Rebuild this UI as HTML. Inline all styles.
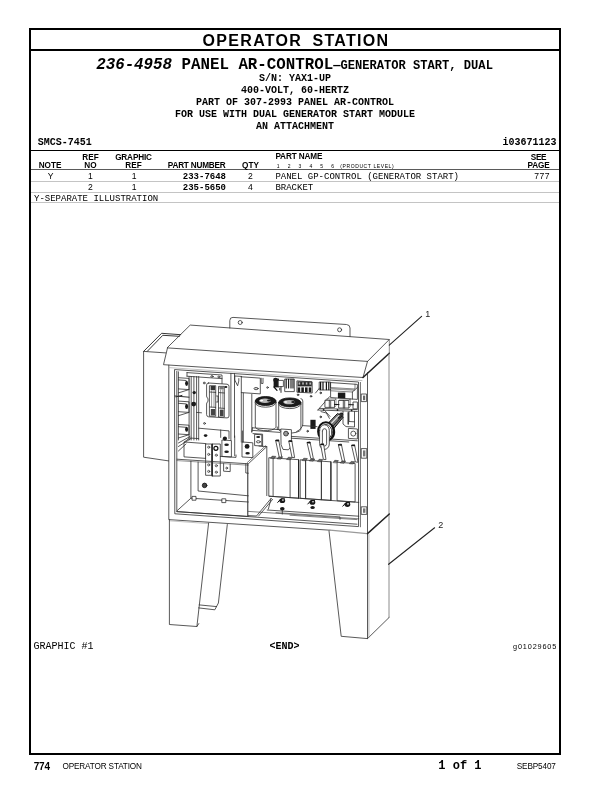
<!DOCTYPE html>
<html><head><meta charset="utf-8"><title>OPERATOR STATION</title>
<style>
html,body{margin:0;padding:0;background:#fff;}
body{width:612px;height:792px;position:relative;overflow:hidden;font-family:"Liberation Sans",sans-serif;color:#000;}
.abs{position:absolute;white-space:pre;line-height:1;}
.sans{font-family:"Liberation Sans",sans-serif;}
.mono{font-family:"Liberation Mono",monospace;}
.b{font-weight:bold;}
.ln{position:absolute;background:#000;}
.gl{position:absolute;background:#c4c4c4;height:1px;left:31px;width:528px;}
.c{text-align:center;}
.r{text-align:right;}
.th{font-size:8.2px;font-weight:bold;}
.td{font-size:8.6px;}
.m9{font-family:"Liberation Mono",monospace;font-size:9px;}
</style></head><body><div id="wrap" style="position:absolute;left:0;top:0;width:612px;height:792px;will-change:transform">
<!-- frame -->
<div class="ln" style="left:29px;top:28px;width:532px;height:2px"></div>
<div class="ln" style="left:29px;top:49px;width:532px;height:2px"></div>
<div class="ln" style="left:29px;top:753.4px;width:532px;height:2px"></div>
<div class="ln" style="left:29px;top:28px;width:2px;height:727.4px"></div>
<div class="ln" style="left:559px;top:28px;width:2px;height:727.4px"></div>
<div class="ln" style="left:31px;top:150px;width:528px;height:1px"></div>
<div class="ln" style="left:31px;top:169px;width:528px;height:1px;background:#5a5a5a"></div>
<div class="gl" style="top:181px"></div>
<div class="gl" style="top:192px"></div>
<div class="gl" style="top:202px"></div>

<div class="abs sans b c" id="title" style="left:32px;width:528px;top:33px;font-size:16px;word-spacing:4.5px;letter-spacing:1.3px">OPERATOR STATION</div>

<div class="abs mono b" id="h1" style="left:96.2px;top:58px;font-size:15.8px"><i id="h1a">236-4958</i> <span id="h1c">PANEL AR-CONTROL</span><span id="h1b" style="font-size:12.1px">&#8212;<span id="h1d">GENERATOR</span> START, DUAL</span></div>
<div class="abs mono b c" id="h2" style="left:31px;width:528px;top:74px;font-size:10px">S/N: YAX1-UP</div>
<div class="abs mono b c" id="h3" style="left:31px;width:528px;top:86px;font-size:10px">400-VOLT, 60-HERTZ</div>
<div class="abs mono b c" id="h4" style="left:31px;width:528px;top:98px;font-size:10px">PART OF 307-2993 PANEL AR-CONTROL</div>
<div class="abs mono b c" id="h5" style="left:31px;width:528px;top:110px;font-size:10px">FOR USE WITH DUAL GENERATOR START MODULE</div>
<div class="abs mono b c" id="h6" style="left:31px;width:528px;top:122px;font-size:10px">AN ATTACHMENT</div>
<div class="abs mono b" id="smcs" style="left:37.7px;top:138px;font-size:10px">SMCS-7451</div>
<div class="abs mono b" id="ino" style="left:502.6px;top:138px;font-size:10px">i03671123</div>

<!-- table header -->
<div class="abs th c" id="t_note" style="left:30px;width:40px;top:162px;letter-spacing:0px">NOTE</div>
<div class="abs th c" id="t_ref" style="left:70px;width:41px;top:154px">REF</div>
<div class="abs th c" id="t_no" style="left:70px;width:41px;top:162px">NO</div>
<div class="abs th c" id="t_gr" style="left:108px;width:51px;top:154px;letter-spacing:-0.15px">GRAPHIC</div>
<div class="abs th c" id="t_gr2" style="left:108px;width:51px;top:162px">REF</div>
<div class="abs th" id="t_pn" style="left:167.8px;top:162px;letter-spacing:-0.2px">PART NUMBER</div>
<div class="abs th c" id="t_qty" style="left:230px;width:41px;top:162px">QTY</div>
<div class="abs th" id="t_pname" style="left:275.4px;top:153.4px;letter-spacing:-0.12px">PART NAME</div>
<div class="abs sans" id="t_lv" style="left:276.8px;top:163.7px;font-size:5px;word-spacing:6.7px">1 2 3 4 5 6</div>
<div class="abs sans" id="t_pl" style="left:340.3px;top:163.7px;font-size:5px;letter-spacing:0.6px">(PRODUCT LEVEL)</div>
<div class="abs th c" id="t_see" style="left:518px;width:41px;top:154px;letter-spacing:-0.3px">SEE</div>
<div class="abs th c" id="t_page" style="left:518px;width:41px;top:162px;letter-spacing:-0.1px">PAGE</div>

<!-- rows -->
<div class="abs td c" id="r1a" style="left:30px;width:41px;top:171.7px">Y</div>
<div class="abs td c" id="r1b" style="left:70px;width:41px;top:171.7px">1</div>
<div class="abs td c" id="r1c" style="left:113.6px;width:41px;top:171.7px">1</div>
<div class="abs m9 b r" id="r1d" style="left:150px;width:76px;top:172.6px">233-7648</div>
<div class="abs td c" id="r1e" style="left:230px;width:41px;top:171.7px">2</div>
<div class="abs m9" id="r1f" style="left:275.4px;top:172.6px">PANEL GP-CONTROL (GENERATOR START)</div>
<div class="abs td r" id="r1g" style="left:500px;width:49.9px;top:171.7px;letter-spacing:0.45px">777</div>

<div class="abs td c" id="r2b" style="left:70px;width:41px;top:182.9px">2</div>
<div class="abs td c" id="r2c" style="left:113.6px;width:41px;top:182.9px">1</div>
<div class="abs m9 b r" id="r2d" style="left:150px;width:76px;top:183.5px">235-5650</div>
<div class="abs td c" id="r2e" style="left:230px;width:41px;top:182.9px">4</div>
<div class="abs m9" id="r2f" style="left:275.4px;top:183.5px">BRACKET</div>
<div class="abs m9" id="r3" style="left:34px;top:194.6px">Y-SEPARATE ILLUSTRATION</div>


<!-- illustration -->
<svg id="art" width="612" height="792" viewBox="0 0 612 792" style="position:absolute;left:0;top:0" fill="none" stroke="#2e2e2e" stroke-width="0.8" stroke-linecap="round" stroke-linejoin="round">
<g id="outline">
<!-- mounting tab -->
<path d="M229.8,328 L229.8,320.6 Q229.8,317.2 233,317.4 L346.5,324.5 Q350,324.8 350,328 L350,336.6"/>
<circle cx="240.2" cy="322.5" r="2"/><circle cx="339.6" cy="329.8" r="2"/>
<!-- roof -->
<path d="M190.6,325.1 L389.3,339.5 L367.5,361.4 L167.5,347.9 Z"/>
<path d="M167.5,347.9 L163.5,364.7 L363,377.5 L367.5,361.4"/>
<path d="M389.3,339.5 L389.3,353.3" stroke="#666" stroke-width="0.75"/>
<path d="M389.3,353.3 L363,377.5" stroke="#222" stroke-width="1.5"/>
<!-- side box -->
<path d="M165.8,352.9 L143.6,351.4 L143.6,457.2 L168.6,460.9"/>
<path d="M143.6,351.4 L161.6,333.3 L180.7,334.7" stroke="#222" stroke-width="0.9"/>
<path d="M147.4,351.2 L162.8,335.3 L179.4,336.3" stroke="#222" stroke-width="0.9"/>
<!-- cabinet -->
<path d="M168.8,365.2 L168.8,519.6 L240,524.3 L330,530.2"/>
<path d="M330,530.2 L367.3,533.7" stroke="#9a9a9a" stroke-width="1.3"/>
<path d="M168.8,367.6 L362,380.6" stroke="#999" stroke-width="0.6"/>
<path d="M367.5,372.6 L367.5,638.6"/>
<path d="M389,353.3 L389,617.6" stroke="#666" stroke-width="0.75"/>
<path d="M389,617.6 L367.5,638.6 L341.2,636.3 L329,531"/>
<path d="M389.3,514 L367.5,533.6" stroke="#222" stroke-width="1.5"/>
<!-- opening -->
<path d="M174.9,369.6 L358.5,382 L358.5,526.6 L175.2,513.8 Z"/>
<path d="M176.8,371.4 L176.8,511.6 L357,524.2"/>
<path d="M360.4,382.4 L360.4,526.8" stroke-width="0.7"/>
<path d="M368.9,534.5 L368.9,637.2" stroke="#888" stroke-width="0.6"/>
<!-- left leg -->
<path d="M169.4,520.8 L208.4,523.6" stroke="#aaa" stroke-width="0.7"/>
<path d="M169.4,519.6 L169.4,624.5 L196.9,626.5 L208.6,523.1"/>
<path d="M196.9,626.5 L198.8,623.6"/>
<path d="M227.3,524.5 L218.4,603 L214.8,609.8 L198.6,607.9"/>
<path d="M199.2,604.9 L216.6,606.6"/>
<!-- hinges -->
<rect x="361.6" y="394" width="5" height="7.6"/><rect x="363" y="395.6" width="2.2" height="4.6" fill="#666" stroke="none"/>
<rect x="361.6" y="448.6" width="5.2" height="9.6"/><rect x="363" y="450.4" width="2.4" height="6" fill="#777" stroke="none"/>
<rect x="361.6" y="506.8" width="5.2" height="7.6"/><rect x="363" y="508.4" width="2.4" height="4.4" fill="#777" stroke="none"/>
</g>
<g id="interior">
<path d="M178.4,371.8 L178.4,440"/>
<path d="M187,372.6 L222,375 L222,383.6 M187,376.2 L222,378.6 M187,372.6 L187,376.2"/>
<ellipse cx="212" cy="376.4" rx="1.2" ry="0.8" />
<ellipse cx="218.9" cy="376.9" rx="1.2" ry="0.8" />
<path d="M178.4,377.7 L189,378.4 L189,389.59999999999997 L178.4,388.9"/>
<path d="M178.4,379.9 L186,380.5"/>
<ellipse cx="186.6" cy="383.29999999999995" rx="1.5" ry="2.6" fill="#1a1a1a" stroke="none"/>
<path d="M178.4,392.9 L189,389.59999999999997"/>
<path d="M178.4,401.1 L189,401.8 L189,412.4 L178.4,411.7"/>
<path d="M178.4,403.3 L186,403.90000000000003"/>
<ellipse cx="186.6" cy="406.4" rx="1.5" ry="2.6" fill="#1a1a1a" stroke="none"/>
<path d="M178.4,415.7 L189,412.4"/>
<path d="M178.4,424.5 L189,425.2 L189,434.7 L178.4,434"/>
<path d="M178.4,426.7 L186,427.3"/>
<ellipse cx="186.6" cy="429.25" rx="1.5" ry="2.6" fill="#1a1a1a" stroke="none"/>
<path d="M178.4,438 L189,434.7"/>
<path d="M174.9,396 L189,397.2 M176,396.9 L182,395.4" stroke-width="1"/>
<path d="M189.1,376.5 L189.1,440"/>
<path d="M191.2,376.5 L191.2,440"/>
<path d="M193.9,376.5 L193.9,440"/>
<path d="M196.6,376.5 L196.6,440"/>
<path d="M198.7,376.5 L198.7,440"/>
<circle cx="194.2" cy="392.6" r="1.7" fill="#1a1a1a" stroke="none"/>
<circle cx="193.7" cy="404.1" r="2.4" fill="#1a1a1a" stroke="none"/>
<path d="M196.6,412.4 L201.5,412.8"/>
<circle cx="204.2" cy="383" r="0.9" />
<circle cx="204.5" cy="423.4" r="0.9" />
<path d="M208.5,383 L227,384.2 Q229,384.4 229,386.4 L229,416 Q229,418 227,417.9 L208.6,416.8 Q206.6,416.6 206.6,414.6 L206.6,404 Q206.6,402 208,401.6 L208,398.4 Q206.6,398 206.6,396 L206.6,385 Q206.6,382.9 208.5,383 Z"/>
<rect x="209.8" y="385.7" width="5.9" height="30.5" />
<rect x="218.9" y="386.4" width="5.4" height="30.6" />
<rect x="210.6" y="386.0" width="4.4" height="4.2" fill="#333" stroke="none"/>
<rect x="210.8" y="409.0" width="4.2" height="6.4" fill="#444" stroke="none"/>
<rect x="219.8" y="409.6" width="3.8" height="6.4" fill="#444" stroke="none"/>
<rect x="219.4" y="386.8" width="4.4" height="2.6" fill="#777" stroke="none"/>
<path d="M209.8,392 L215.7,392.4 M209.8,407 L215.7,407.4 M218.9,392.6 L224.3,393 M218.9,408 L224.3,408.4"/>
<path d="M211.6,391 L211.6,407 M214,391 L214,407 M220.6,390 L220.6,408 M222.8,390 L222.8,408" stroke-width="0.5"/>
<ellipse cx="225.9" cy="386.9" rx="1.5" ry="1" fill="#1a1a1a" stroke="none"/>
<path d="M216.6,396 L218,396 L218,402 L216.6,402"/>
<path d="M230.9,373.4 L230.9,440 M234.5,373.6 L234.5,437.4"/>
<path d="M198.7,428.2 L229,430.9 L229,438.5"/>
<ellipse cx="205.6" cy="435.6" rx="1.8" ry="1.3" fill="#1a1a1a" stroke="none"/>
<path d="M178.4,443 L190,436.5 M178.4,446.5 L191,438.5 M178.4,451 L186,444" stroke-width="0.8"/>
<path d="M184.4,442 L206,443.6 L206,458.4 L184.4,456.9 Z"/>
<path d="M184.4,442 L189.6,438 L198.7,438.6"/>
<rect x="206.0" y="444.0" width="5.8" height="31.3" fill="#fff"/>
<rect x="212.5" y="444.0" width="7.8" height="32.0" fill="#fff"/>
<path d="M212.2,444 L212.2,476" stroke="#111" stroke-width="1.1"/>
<circle cx="208.7" cy="447.2" r="1.1" fill="#ddd" stroke="#222" stroke-width="0.6"/>
<circle cx="216.3" cy="448.0" r="1.1" fill="#ddd" stroke="#222" stroke-width="0.6"/>
<circle cx="208.7" cy="454.4" r="1.1" fill="#ddd" stroke="#222" stroke-width="0.6"/>
<circle cx="216.3" cy="455.2" r="1.1" fill="#ddd" stroke="#222" stroke-width="0.6"/>
<circle cx="208.7" cy="464.9" r="1.1" fill="#ddd" stroke="#222" stroke-width="0.6"/>
<circle cx="216.3" cy="465.7" r="1.1" fill="#ddd" stroke="#222" stroke-width="0.6"/>
<circle cx="208.7" cy="471.4" r="1.1" fill="#ddd" stroke="#222" stroke-width="0.6"/>
<circle cx="216.3" cy="472.2" r="1.1" fill="#ddd" stroke="#222" stroke-width="0.6"/>
<circle cx="215.9" cy="448.3" r="2" fill="#fff" stroke="#111" stroke-width="1.2"/>
<path d="M222.3,440 L231.4,440.6 L231.4,457 L222.3,456.4 Z"/>
<circle cx="224.9" cy="438.6" r="2.1" fill="#1a1a1a" stroke="none"/>
<ellipse cx="226.6" cy="444.8" rx="2.3" ry="1.2" fill="#1a1a1a" stroke="none"/>
<ellipse cx="226.6" cy="451.8" rx="2.3" ry="1.2" fill="#1a1a1a" stroke="none"/>
<path d="M220.3,456.4 L236,457.4 L236,455"/>
<path d="M242.4,442 L252.8,442.8 L252.8,457.6 L242.4,457 Z"/>
<circle cx="247.1" cy="446.4" r="2.4" fill="#1a1a1a" stroke="none"/>
<ellipse cx="247.6" cy="453.2" rx="2.2" ry="1.2" fill="#1a1a1a" stroke="none"/>
<path d="M242.4,442 L242.4,431"/>
<path d="M220.7,437.4 L220.7,430 M234.7,436 L234.7,455.7"/>
<path d="M177,459.2 L248.3,463.8 L266.8,446.6 L266.8,495.6"/>
<path d="M177,460.6 L248.3,465.2" stroke-width="0.5"/>
<path d="M247.8,463.8 L247.8,515.6" stroke="#222" stroke-width="1"/>
<path d="M247.2,462.6 L265.8,445.6" stroke-width="0.6"/>
<path d="M245.8,463.7 L245.8,473 L248.3,473.2"/>
<path d="M266.8,446.6 L259,446"/>
<path d="M198.1,462 L198.1,491 L248.3,495.8"/>
<path d="M223.6,463.6 L223.6,471.2 L230.2,471.6 L230.2,464"/>
<circle cx="226.7" cy="468.1" r="0.9" />
<circle cx="204.6" cy="485.4" r="2.3" fill="#444" stroke="#111" stroke-width="0.8"/>
<path d="M190.9,461.2 L190.9,498.2 L248.3,502 M190.9,498.2 L177.2,510.6"/>
<rect x="192.4" y="496.4" width="3.6" height="3.8" fill="#fff"/>
<rect x="222.2" y="498.8" width="3.6" height="3.8" fill="#fff"/>
<path d="M248.3,515.6 L256.5,516 L271.1,498.4 M258.6,516 L272.6,499.4"/>
<path d="M241.3,376.4 L241.3,442 M243.3,393 L243.3,442 M251.8,394.4 L251.8,432"/>
<path d="M241.3,376.8 L260.3,378.1 L260.3,393.9 L241.3,392.6"/>
<ellipse cx="256.1" cy="388.6" rx="2.1" ry="1.1" fill="#ddd"/>
<path d="M234.8,376 L241.3,376.4 M234.8,376 L234.8,380 L237.6,385.8 L238.8,381 L238.8,378.6"/>
<path d="M261.2,378.2 L261.2,383.4 L263,383.5 L263,378.3"/>
<circle cx="267.5" cy="387.5" r="0.8" />
<rect x="273.6" y="378.6" width="5.4" height="8.8" fill="#1a1a1a" stroke="none"/>
<rect x="278.4" y="380.4" width="5.0" height="6.2" fill="#fff"/>
<path d="M281,386.6 L281,392.4 M279.8,388 L279.8,390" stroke-width="1"/>
<ellipse cx="275.6" cy="380" rx="2.4" ry="2.2" fill="#1a1a1a" stroke="none"/>
<path d="M274,387 L277,390.4" stroke="#111" stroke-width="1.2"/>
<rect x="285.1" y="379.0" width="9.2" height="12.6" />
<path d="M286.2,379.4 L286.2,388" stroke="#111" stroke-width="1.1"/>
<path d="M288.6,379.4 L288.6,388" stroke="#111" stroke-width="1.1"/>
<path d="M291,379.4 L291,388" stroke="#111" stroke-width="1.1"/>
<path d="M293,379.4 L293,388" stroke="#111" stroke-width="1.1"/>
<rect x="297.6" y="381.4" width="14.2" height="5.0" fill="#2a2a2a" stroke="none"/>
<rect x="298.6" y="382.4" width="1.6" height="2.2" fill="#bbb" stroke="none"/>
<rect x="302.2" y="382.4" width="1.6" height="2.2" fill="#bbb" stroke="none"/>
<rect x="305.8" y="382.4" width="1.6" height="2.2" fill="#bbb" stroke="none"/>
<rect x="309.4" y="382.4" width="1.6" height="2.2" fill="#bbb" stroke="none"/>
<rect x="297.6" y="387.4" width="2.6" height="5.0" fill="#1a1a1a" stroke="none"/>
<rect x="301.3" y="387.4" width="2.6" height="5.0" fill="#1a1a1a" stroke="none"/>
<rect x="305.0" y="387.4" width="2.6" height="5.0" fill="#1a1a1a" stroke="none"/>
<rect x="308.7" y="387.4" width="2.6" height="5.0" fill="#1a1a1a" stroke="none"/>
<path d="M297.3,380.9 L312.2,381.9 L312.2,393 L297.3,392.2 Z"/>
<rect x="319.6" y="382.0" width="10.9" height="8.0" />
<path d="M320.6,382.4 L320.6,389.6" stroke="#111" stroke-width="1.2"/>
<path d="M323,382.4 L323,389.6" stroke="#111" stroke-width="1.2"/>
<path d="M326.4,382.4 L326.4,389.6" stroke="#111" stroke-width="1.2"/>
<path d="M328.8,382.4 L328.8,389.6" stroke="#111" stroke-width="1.2"/>
<path d="M319.6,388 L315.5,393"/>
<path d="M331,382.6 L357.4,384.4 L357.4,399.4 L331,397.6 Z"/>
<path d="M331,387.6 L355,389 L355,384.2 M331,390.8 L352,392" stroke-width="0.6"/>
<path d="M331.4,388.6 L354.6,390" stroke="#999" stroke-width="1.6"/>
<rect x="337.9" y="392.6" width="7.4" height="5.6" fill="#1a1a1a" stroke="none"/>
<path d="M352.4,392 L357.4,387.5 M352.4,392 L352.4,399"/>
<path d="M317.9,410 L329.6,396.6 M317.9,410 L357.4,411.4 M319.4,408.4 L357.4,409.6"/>
<rect x="325.3" y="400.3" width="9.2" height="7.1" fill="#fff"/>
<path d="M329.29999999999995,400.3 L329.29999999999995,407.4 M330.7,401.1 L330.7,407.4"/>
<path d="M325.3,400.3 L326.8,398.90000000000003 L336.0,398.90000000000003 L334.5,400.3 M336.0,398.90000000000003 L336.0,406.0 L334.5,407.4" stroke-width="0.5"/>
<rect x="339.0" y="400.5" width="9.8" height="7.5" fill="#fff"/>
<path d="M343.29999999999995,400.5 L343.29999999999995,408 M344.7,401.3 L344.7,408"/>
<path d="M339,400.5 L340.5,399.1 L350.3,399.1 L348.8,400.5 M350.3,399.1 L350.3,406.6 L348.8,408" stroke-width="0.5"/>
<rect x="353.4" y="402.0" width="4.0" height="6.9" fill="#fff"/>
<path d="M334.5,404.4 L339,404.6 M348.8,404.6 L353.4,404.8" stroke-width="1" stroke="#111"/>
<circle cx="337.5" cy="410" r="0.9" fill="#1a1a1a" stroke="none"/>
<circle cx="323.6" cy="409.8" r="0.9" fill="#1a1a1a" stroke="none"/>
<circle cx="351.6" cy="410.4" r="0.9" fill="#1a1a1a" stroke="none"/>
<path d="M255.3,401 L255.3,425.6 A10.349999999999994,4.2 0 0 0 276,427.20000000000005 L276,402" fill="#fff"/>
<ellipse cx="265.6" cy="402.6" rx="10.349999999999994" ry="4.6" fill="#fff"/>
<ellipse cx="265.6" cy="401" rx="10.349999999999994" ry="4.5" fill="#1a1a1a" stroke="#111"/>
<ellipse cx="265.0" cy="400.7" rx="6" ry="2.2" fill="#b8b8b8" stroke="none"/>
<ellipse cx="269.0" cy="400.6" rx="2" ry="1" fill="#1a1a1a" stroke="none"/>
<ellipse cx="261.6" cy="400.6" rx="1.6" ry="0.8" fill="#fff" stroke="none"/>
<path d="M278.7,402.4 L278.7,428 A11.099999999999994,4.2 0 0 0 300.9,429.6 L300.9,403.4" fill="#fff"/>
<ellipse cx="289.8" cy="404.0" rx="11.099999999999994" ry="4.6" fill="#fff"/>
<ellipse cx="289.8" cy="402.4" rx="11.099999999999994" ry="4.5" fill="#1a1a1a" stroke="#111"/>
<ellipse cx="289.2" cy="402.09999999999997" rx="6" ry="2.2" fill="#b8b8b8" stroke="none"/>
<ellipse cx="293.2" cy="402.0" rx="2" ry="1" fill="#1a1a1a" stroke="none"/>
<ellipse cx="285.8" cy="402.0" rx="1.6" ry="0.8" fill="#fff" stroke="none"/>
<path d="M300.9,398.6 Q302.8,398.8 302.8,401 L302.8,424 Q302.6,428.6 296.6,431.6"/>
<path d="M252.5,427.8 L281.2,429.8 M252.5,430.4 L280,432.4 M252.5,427.8 L251.8,432 M277.3,427 L277.3,429.6"/>
<path d="M281.2,429 L291.4,429.7 L291.4,446 L288.4,449.8 L283,449.4 L281.2,445 Z" fill="#fff"/>
<circle cx="286" cy="433.6" r="2.4" fill="#999" stroke="#222"/>
<path d="M255,434.3 L261.8,434.8 L261.8,446 L255,445.6 Z"/>
<ellipse cx="258.2" cy="437" rx="2" ry="1.1" fill="#1a1a1a" stroke="none"/>
<ellipse cx="258.4" cy="441.8" rx="2" ry="1.1" fill="#fff"/>
<path d="M253,433.6 L262.6,434.2 L262.6,446.4"/>
<circle cx="311" cy="396.3" r="0.8" fill="#888"/>
<circle cx="320.7" cy="392.9" r="0.8" fill="#888"/>
<circle cx="320.7" cy="416.9" r="0.8" fill="#888"/>
<circle cx="307.6" cy="431.2" r="0.8" fill="#888"/>
<circle cx="298" cy="394.8" r="0.8" fill="#888"/>
<rect x="310.4" y="419.8" width="5.2" height="9.1" fill="#1a1a1a" stroke="none"/>
<path d="M343,411.4 L343,424 L346,426.6 L354.5,427 L354.5,411.6 M349,411.6 L349,421.5 L354.5,421.8"/>
<path d="M348.8,428.4 L357.4,429 L357.4,439 L348.8,438.4 Z"/>
<circle cx="353.3" cy="433.6" r="2.5" />
<path d="M291.4,436.4 L357.4,440.8 M291.4,438.2 L348.8,442"/>
<path d="M302.8,425.6 L317,426.6"/>
<path d="M326.5,425 L337.6,413.4 L343.2,417.2 L332.8,429.8 Z" fill="#777" stroke="#111" stroke-width="1"/>
<ellipse cx="340.2" cy="415.6" rx="3.2" ry="1.8" fill="#333" stroke="#111" transform="rotate(-48 340.2 415.6)"/>
<path d="M329.4,425.4 L339,415.4" stroke="#eee" stroke-width="1.1"/>
<path d="M331.6,427.6 L341,417.4" stroke="#222" stroke-width="1"/>
<path d="M321,411.6 L326.4,413 L329.4,418.4 M324.8,410.6 L330,416.4"/>
<ellipse cx="325.9" cy="431.6" rx="7.8" ry="9.4" fill="#fff" stroke="#111" stroke-width="2"/>
<ellipse cx="326.1" cy="432" rx="5.9" ry="7.4" stroke="#111" stroke-width="0.9"/>
<path d="M331.8,426 A5.9,7.4 0 0 1 331.6,438.4" stroke="#111" stroke-width="1.6"/>
<path d="M319.6,430.4 L319.6,443.6 A4.85,5.6 0 0 0 329.3,444 L329.3,430.4 A4.85,5.6 0 0 0 319.6,430.4 Z" fill="#fff"/>
<path d="M322.4,431 L322.4,443.6 A2.1,2.3 0 0 0 326.6,443.8 L326.6,431 A2.1,2.3 0 0 0 322.4,431"/>
<path d="M348.2,412.7 L348.2,424" stroke="#222" stroke-width="1.3"/>
<path d="M269.2,457.7 L298.6,459.6698 L298.6,498.1698 L269.2,496.2 Z" fill="#fff"/>
<path d="M273.1,457.9613 L273.1,496.4613"/>
<path d="M290.1,459.1003 L290.1,497.6003"/>
<path d="M300.6,459.80379999999997 L330.9,461.83389999999997 L330.9,500.33389999999997 L300.6,498.30379999999997 Z" fill="#fff"/>
<path d="M305.6,460.1388 L305.6,498.6388"/>
<path d="M321.4,461.1974 L321.4,499.6974"/>
<path d="M337.5,462.2761 L355.1,463.45529999999997 L355.1,501.95529999999997 L337.5,500.7761 Z" fill="#fff"/>
<path d="M298.6,459.8 L298.6,498.2" stroke="#222" stroke-width="1.1"/>
<path d="M330.9,461.8 L330.9,500.4" stroke="#222" stroke-width="1.1"/>
<path d="M321.4,461.2 L321.4,499.6 M305.6,460.2 L305.6,498.6"/>
<path d="M270.6,458.0938 L272.20000000000005,456.0938 L275.8,456.3938 L274.40000000000003,458.3938 Z" fill="#666" stroke="#222" stroke-width="0.5"/>
<path d="M277.4,458.5494 L279.0,456.5494 L282.59999999999997,456.8494 L281.2,458.8494 Z" fill="#666" stroke="#222" stroke-width="0.5"/>
<path d="M286.8,459.1792 L288.40000000000003,457.1792 L292.0,457.4792 L290.6,459.4792 Z" fill="#666" stroke="#222" stroke-width="0.5"/>
<path d="M302.2,460.211 L303.8,458.211 L307.4,458.511 L306.0,460.511 Z" fill="#666" stroke="#222" stroke-width="0.5"/>
<path d="M309.6,460.7068 L311.20000000000005,458.7068 L314.8,459.0068 L313.40000000000003,461.0068 Z" fill="#666" stroke="#222" stroke-width="0.5"/>
<path d="M317.6,461.2428 L319.20000000000005,459.2428 L322.8,459.5428 L321.40000000000003,461.5428 Z" fill="#666" stroke="#222" stroke-width="0.5"/>
<path d="M333.2,462.288 L334.8,460.288 L338.4,460.588 L337.0,462.588 Z" fill="#666" stroke="#222" stroke-width="0.5"/>
<path d="M340.4,462.7704 L342.0,460.7704 L345.59999999999997,461.0704 L344.2,463.0704 Z" fill="#666" stroke="#222" stroke-width="0.5"/>
<path d="M349.6,463.3868 L351.20000000000005,461.3868 L354.8,461.6868 L353.40000000000003,463.6868 Z" fill="#666" stroke="#222" stroke-width="0.5"/>
<path d="M275.7,440.7 L279.2,457 L281.8,457.2 L278.7,440.09999999999997 Z" fill="#fff"/>
<path d="M276.09999999999997,440.5 L278.5,440.7" stroke="#111" stroke-width="1.4"/>
<path d="M288.8,441.3 L292,457.4 L294.6,457.59999999999997 L291.8,440.7 Z" fill="#fff"/>
<path d="M289.2,441.1 L291.6,441.3" stroke="#111" stroke-width="1.4"/>
<path d="M307.1,442.8 L310.8,458.6 L313.40000000000003,458.8 L310.1,442.2 Z" fill="#fff"/>
<path d="M307.5,442.6 L309.90000000000003,442.8" stroke="#111" stroke-width="1.4"/>
<path d="M320.6,444.6 L323.4,459.4 L326.0,459.59999999999997 L323.6,444.0 Z" fill="#fff"/>
<path d="M321.0,444.40000000000003 L323.40000000000003,444.6" stroke="#111" stroke-width="1.4"/>
<path d="M338.4,445 L342.2,461 L344.8,461.2 L341.4,444.4 Z" fill="#fff"/>
<path d="M338.79999999999995,444.8 L341.2,445" stroke="#111" stroke-width="1.4"/>
<path d="M351.6,445.6 L355.4,462 L358.0,462.2 L354.6,445.0 Z" fill="#fff"/>
<path d="M352.0,445.40000000000003 L354.40000000000003,445.6" stroke="#111" stroke-width="1.4"/>
<path d="M269.2,496.2 L358.8,502.4 M267.2,510 L358.8,516.2 M271.1,498.4 L268.4,509"/>
<path d="M248.3,511.4 L358.8,518.8 M276,512.6 L340,516.8 L340,519.6 M290,515.2 L357,519.6" stroke-width="0.6"/>
<path d="M176.8,511.6 L248.3,516.4"/>
<ellipse cx="282.3" cy="500.8" rx="2.9" ry="2.3" fill="#1a1a1a" stroke="none"/>
<path d="M277.7,502.40000000000003 L280.90000000000003,498.8 L284.5,498.8" stroke="#111" stroke-width="1"/>
<ellipse cx="282.90000000000003" cy="500.1" rx="1.1" ry="0.8" fill="#ccc" stroke="none"/>
<ellipse cx="312.4" cy="502.4" rx="2.9" ry="2.3" fill="#1a1a1a" stroke="none"/>
<path d="M307.79999999999995,504.0 L311.0,500.4 L314.59999999999997,500.4" stroke="#111" stroke-width="1"/>
<ellipse cx="313.0" cy="501.7" rx="1.1" ry="0.8" fill="#ccc" stroke="none"/>
<ellipse cx="347.4" cy="504.6" rx="2.9" ry="2.3" fill="#1a1a1a" stroke="none"/>
<path d="M342.79999999999995,506.20000000000005 L346.0,502.6 L349.59999999999997,502.6" stroke="#111" stroke-width="1"/>
<ellipse cx="348.0" cy="503.90000000000003" rx="1.1" ry="0.8" fill="#ccc" stroke="none"/>
<ellipse cx="282.3" cy="508.7" rx="2.3" ry="1.7" fill="#1a1a1a" stroke="none"/>
<ellipse cx="312.6" cy="507.4" rx="2.2" ry="1.5" fill="#1a1a1a" stroke="none"/>
<path d="M282.3,510 L282.3,514"/>
</g>
<g id="leaders" stroke="#222" stroke-width="1.1">
<path d="M389.3,345.1 L421.6,316.3"/>
<path d="M388.6,564.3 L434.6,527.8"/>
</g>
<g stroke="none" fill="#222" style="font-family:'Liberation Sans',sans-serif;font-size:9px">
<text x="425.3" y="316.6">1</text>
<text x="438.2" y="528.2">2</text>
</g>
</svg>
<!-- graphic caption -->
<div class="abs mono" id="g1" style="left:33.5px;top:641.7px;font-size:10px">GRAPHIC #1</div>
<div class="abs mono b" id="g2" style="left:269.5px;top:641.7px;font-size:10px">&lt;END&gt;</div>
<div class="abs sans" id="g3" style="left:513px;top:642.5px;font-size:7.3px;letter-spacing:0.85px">g01029605</div>

<!-- footer -->
<div class="abs sans b" id="f1" style="left:33.7px;top:761.6px;font-size:10px;letter-spacing:-0.2px">774</div>
<div class="abs sans" id="f2" style="left:62.5px;top:763.3px;font-size:8.2px;letter-spacing:-0.15px">OPERATOR STATION</div>
<div class="abs mono b" id="f3" style="left:438.3px;top:759.7px;font-size:12px">1 of 1</div>
<div class="abs sans" id="f4" style="left:516.8px;top:763.3px;font-size:8.2px;letter-spacing:-0.14px">SEBP5407</div>
</div></body></html>
